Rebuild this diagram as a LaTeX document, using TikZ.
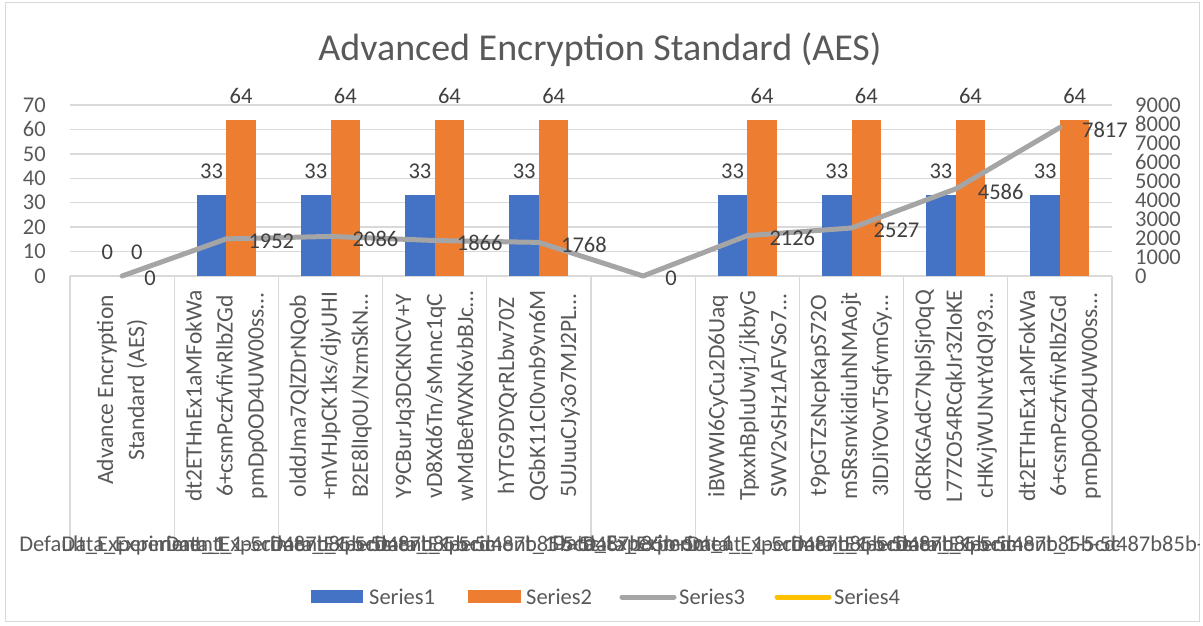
\documentclass[tikz,border=0pt]{standalone}
\usepackage{fontspec}
\setmainfont{Carlito}
\definecolor{gridgray}{HTML}{D9D9D9}
\definecolor{axisgray}{HTML}{595959}
\definecolor{labelgray}{HTML}{404040}
\definecolor{seriesA}{HTML}{4472C4}
\definecolor{seriesB}{HTML}{ED7D31}
\definecolor{seriesC}{HTML}{A5A5A5}
\definecolor{seriesD}{HTML}{FFC000}
\begin{document}
\begin{tikzpicture}[x=1pt,y=-1pt,
  chartframe/.style={draw=gridgray,line width=1pt},
  gridline/.style={draw=gridgray,line width=1.3pt},
  ticklabel/.style={text=axisgray,inner sep=0pt,font=\fontsize{22.5}{27}\selectfont},
  datalabel/.style={text=labelgray,inner sep=0pt,font=\fontsize{22.5}{27}\selectfont},
  catlabel/.style={text=axisgray,inner sep=0pt,rotate=90,align=center,
    font=\fontsize{23.5}{31}\selectfont},
  grouplabel/.style={text=axisgray,inner sep=0pt,font=\fontsize{22.5}{27}\selectfont},
  barA/.style={fill=seriesA},
  barB/.style={fill=seriesB},
  trend/.style={draw=seriesC,line width=5pt,line join=round,line cap=round},
  legendtext/.style={text=axisgray,inner sep=0pt,anchor=west,font=\fontsize{22.5}{27}\selectfont}]

\useasboundingbox (0,0) rectangle (1203,626);
\fill[white] (0,0) rectangle (1203,626);
\draw[chartframe] (5,3) rectangle (1199,621);

% title
\node[text=axisgray,font=\fontsize{38}{44}\selectfont] (title) at (600,50) {Advanced Encryption Standard (AES)};

% horizontal gridlines (left axis 0..70)
\foreach \k in {0,...,7}{
  \draw[gridline] (70,{276-\k*171/7}) -- (1112,{276-\k*171/7});
  \pgfmathtruncatemacro{\val}{10*\k}
  \node[ticklabel,anchor=east] (yl\k) at (46,{276-\k*171/7}) {\val};
}
% right axis labels 0..9000
\foreach \k in {0,...,9}{
  \pgfmathtruncatemacro{\val}{1000*\k}
  \node[ticklabel,anchor=west] (yr\k) at (1135,{276-\k*19}) {\val};
}

% category separators
\foreach \i in {0,...,10}{
  \draw[gridline] ({70+104.2*\i},276) -- ({70+104.2*\i},548);
}

% bars: Series1 = 33, Series2 = 64
\foreach \c in {226.3,330.5,434.7,538.9,747.3,851.5,955.7,1059.9}{
  \fill[barA] ({\c-29.5},{276-33*171/70}) rectangle (\c,276);
  \fill[barB] (\c,{276-64*171/70}) rectangle ({\c+29.5},276);
  \node[datalabel] at ({\c-14.75},171) {33};
  \node[datalabel] at ({\c+14.75},96) {64};
}
\node[datalabel] (a1) at (107.3,252) {0};
\node[datalabel] (b1) at (136.9,252) {0};

% Series3 points
\coordinate (p1) at (122.1,276);
\coordinate (p2) at (226.3,238.9);
\coordinate (p3) at (330.5,236.4);
\coordinate (p4) at (434.7,240.5);
\coordinate (p5) at (538.9,242.4);
\coordinate (p6) at (643.1,276);
\coordinate (p7) at (747.3,235.6);
\coordinate (p8) at (851.5,228.0);
\coordinate (p9) at (955.7,188.9);
\coordinate (p10) at (1059.9,127.5);
\draw[trend] (p1) -- (p2) -- (p3) -- (p4) -- (p5) -- (p6) -- (p7) -- (p8) -- (p9) -- (p10);
\foreach \p/\v in {p1/0,p2/1952,p3/2086,p4/1866,p5/1768,p6/0,p7/2126,p8/2527,p9/4586,p10/7817}{
  \node[datalabel,anchor=west] (l\p) at ([shift={(22,2.5)}]\p) {\v};
}

% category labels
\node[catlabel] (c1) at (122.1,390) {Advance Encryption\\Standard (AES)};
\node[catlabel] (c2) at (226.3,396) {dt2ETHnEx1aMFokWa\\6+csmPczfvfivRlbZGd\\pmDp0OD4UW00ss…};
\node[catlabel] (c3) at (330.5,396) {olddJma7QlZDrNQob\\+mVHJpCK1ks/djyUHI\\B2E8lIq0U/NzmSkN…};
\node[catlabel] (c4) at (434.7,396) {Y9CBurJq3DCKNCV+Y\\vD8Xd6Tn/sMnnc1qC\\wMdBefWXN6vbBJc…};
\node[catlabel] (c5) at (538.9,396) {hYTG9DYQrRLbw70Z\\QGbK11CI0vnb9vn6M\\5UJuuCJy3o7MJ2PL…};
\node[catlabel] (c7) at (747.3,396) {iBWWI6CyCu2D6Uaq\\TpxxhBpluUwj1/jkbyG\\SWV2vSHz1AFVSo7…};
\node[catlabel] (c8) at (851.5,396) {t9pGTZsNcpKapS72O\\mSRsnvkidiuhNMAojt\\3IDJiYOwT5qfvmGy…};
\node[catlabel] (c9) at (955.7,396) {dCRKGAdC7NplSjr0qQ\\L77ZO54RCqkJr3ZIoKE\\cHKvjWUNvtYdQI93…};
\node[catlabel] (c10) at (1059.9,396) {dt2ETHnEx1aMFokWa\\6+csmPczfvfivRlbZGd\\pmDp0OD4UW00ss…};

% second-level labels, overlapping
\begin{scope}
\clip (5,3) rectangle (1199,621);
\node[grouplabel] (g1) at (122.1,545) {Default\_Experiment\_1};
\foreach \c in {226.3,330.5,434.7,538.9,747.3,851.5,955.7,1059.9}{
  \node[grouplabel] at (\c,545) {Data\_Experiment\_1-5cd487b85b-5c};
}
\node[grouplabel] (g6) at (643.1,545) {Data\_Experiment\_1};
\end{scope}

% legend
\fill[seriesA] (311,590) rectangle (363,603);
\node[legendtext] (s1) at (369,597) {Series1};
\fill[seriesB] (468,590) rectangle (521,603);
\node[legendtext] (s2) at (526,597) {Series2};
\draw[draw=seriesC,line width=5pt,line cap=round] (622,597) -- (674,597);
\node[legendtext] (s3) at (679,597) {Series3};
\draw[draw=seriesD,line width=5pt,line cap=round] (777,597) -- (829,597);
\node[legendtext] (s4) at (834,597) {Series4};
\end{tikzpicture}
\end{document}
